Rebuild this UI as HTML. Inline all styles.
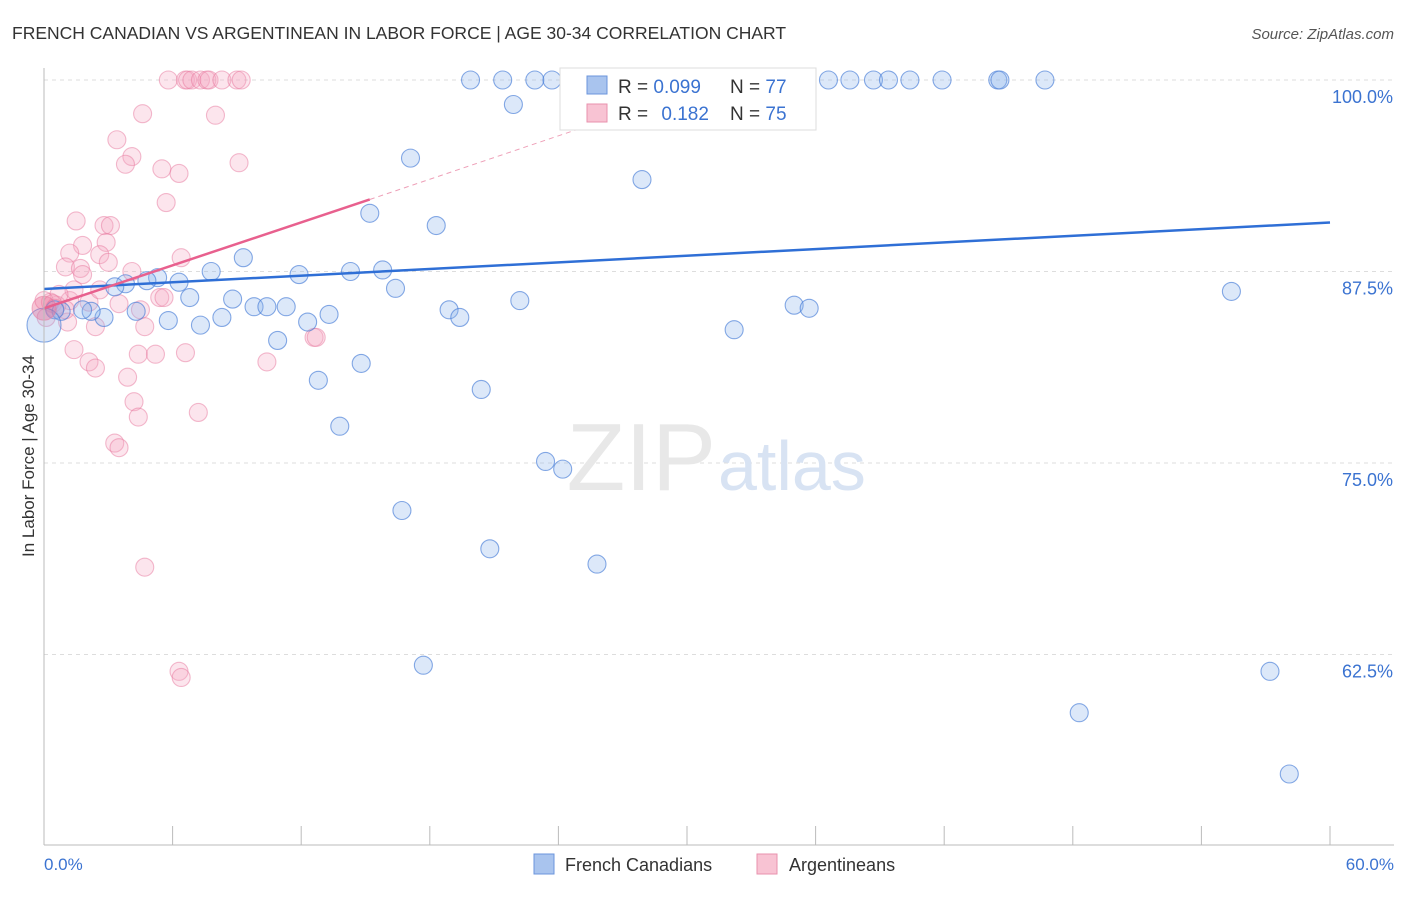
<!DOCTYPE html>
<html><head><meta charset="utf-8"><style>
body{margin:0;background:#fff;font-family:"Liberation Sans",sans-serif;}
svg text{font-family:"Liberation Sans",sans-serif;}
</style></head><body>
<svg id="chart" width="1406" height="892">
<text x="12" y="39" font-size="17.5" fill="#333">FRENCH CANADIAN VS ARGENTINEAN IN LABOR FORCE | AGE 30-34 CORRELATION CHART</text>
<text x="1394" y="39" font-size="15" fill="#555" text-anchor="end" font-style="italic">Source: ZipAtlas.com</text>
<g id="grid"></g>
<text x="716" y="490" font-size="96" fill="#e8e8e8" text-anchor="end" font-family="Liberation Serif">ZIP</text>
<text x="718" y="490" font-size="70" fill="#d8e3f3">atlas</text>
<g id="pts"></g>
<g id="lines"></g>
<line x1="44" y1="68" x2="44" y2="845" stroke="#bbb"/>
<line x1="44" y1="845" x2="1394" y2="845" stroke="#bbb"/>
<g id="ticks"></g>
<text x="34" y="456" font-size="17" fill="#333" text-anchor="middle" transform="rotate(-90 34 456)">In Labor Force | Age 30-34</text>
<text x="44" y="870" font-size="17" fill="#3b73d1">0.0%</text>
<text x="1394" y="870" font-size="17" fill="#3b73d1" text-anchor="end">60.0%</text>
<g>
<rect x="560" y="68" width="256" height="62" fill="#fff" stroke="#ddd"/>
<rect x="587" y="76" width="20" height="18" fill="#a9c4ee" stroke="#6b95dc"/>
<rect x="587" y="104" width="20" height="18" fill="#f8c3d3" stroke="#e891ae"/>
<text x="618" y="93" font-size="19" fill="#333">R = <tspan fill="#3b73d1">0.099</tspan></text>
<text x="730" y="93" font-size="19" fill="#333">N = <tspan fill="#3b73d1">77</tspan></text>
<text x="618" y="120" font-size="19" fill="#333">R = <tspan fill="#3b73d1" dx="8">0.182</tspan></text>
<text x="730" y="120" font-size="19" fill="#333">N = <tspan fill="#3b73d1">75</tspan></text>
</g>
<g>
<rect x="534" y="854" width="20" height="20" fill="#a9c4ee" stroke="#6b95dc"/>
<text x="565" y="871" font-size="18" fill="#333">French Canadians</text>
<rect x="757" y="854" width="20" height="20" fill="#f8c3d3" stroke="#e891ae"/>
<text x="789" y="871" font-size="18" fill="#333">Argentineans</text>
</g>
</svg>
<script>
const yTicks=[100,87.5,75,62.5];
const yTickLabels=["100.0%","87.5%","75.0%","62.5%"];
const xTicks=[0,6,12,18,24,30,36,42,48,54,60];
const blueX=[19.9,21.4,22.9,23.7,25.0,26.9,28.7,30.6,36.6,37.6,38.7,39.4,40.4,41.9,44.5,44.6,46.7,21.9,17.1,27.9,15.2,18.3,9.3,7.8,11.9,14.3,15.8,5.3,6.3,4.8,3.8,3.3,16.4,6.8,8.8,9.8,10.4,11.3,22.2,18.9,19.4,13.3,8.3,5.8,7.3,12.3,2.8,2.2,1.8,0.8,0.5,4.3,0.0,32.2,35.0,35.7,55.4,10.9,12.8,14.8,20.4,13.8,23.4,24.2,16.7,20.8,25.8,17.7,48.3,57.2,58.1];
const blueY=[100,100,100,100,100,100,100,100,100,100,100,100,100,100,100,100,100,98.4,94.9,93.5,91.3,90.5,88.4,87.5,87.3,87.5,87.6,87.1,86.8,86.9,86.7,86.5,86.4,85.8,85.7,85.2,85.2,85.2,85.6,85.0,84.5,84.7,84.5,84.3,84.0,84.2,84.5,84.9,85.0,84.9,85.0,84.9,84.0,83.7,85.3,85.1,86.2,83.0,80.4,81.5,79.8,77.4,75.1,74.6,71.9,69.4,68.4,61.8,58.7,61.4,54.7];
const pinkX=[5.8,6.6,6.7,6.9,7.3,7.6,7.7,8.3,9.0,9.2,4.6,8.0,3.4,4.1,3.8,5.5,6.3,9.1,5.7,1.5,2.8,3.1,1.8,2.9,1.2,2.6,3.0,1.0,1.7,1.8,4.1,6.4,1.2,2.1,3.5,4.5,5.4,5.6,4.7,2.4,1.1,0.6,0.3,0.1,1.4,2.1,2.4,4.4,5.2,6.6,10.4,3.9,4.2,4.4,7.2,3.3,3.5,4.7,6.3,6.4,12.6,12.7,2.6,1.4,0.7,0.0,0.4,0.5,1.0];
const pinkY=[100,100,100,100,100,100,100,100,100,100,97.8,97.7,96.1,95.0,94.5,94.2,93.9,94.6,92.0,90.8,90.5,90.5,89.2,89.4,88.7,88.6,88.1,87.8,87.7,87.3,87.5,88.4,85.6,85.5,85.4,85.0,85.8,85.8,83.9,83.9,84.2,85.3,85.5,84.5,82.4,81.6,81.2,82.1,82.1,82.2,81.6,80.6,79.0,78.0,78.3,76.3,76.0,68.2,61.4,61.0,83.2,83.2,86.3,86.3,86.0,85.6,85.4,85.1,85.0];
const blueTrend=[86.36,90.7];
const pinkTrend=[85.1,92.2,97.3];
const pinkTrendX=[0,15.2,26];
const NS="http://www.w3.org/2000/svg";
function sx(v){return 44+v/60*1286;}
function sy(v){return 80+(100-v)/12.5*191.5;}
function mk(tag,attrs,parent){const e=document.createElementNS(NS,tag);for(const k in attrs)e.setAttribute(k,attrs[k]);parent.appendChild(e);return e;}
const grid=document.getElementById('grid');
yTicks.forEach((t,i)=>{
 const l=mk('line',{x1:44,x2:1394,y1:sy(t),y2:sy(t),stroke:'#ddd','stroke-dasharray':'4,4'},grid);
 
 
 const tx=mk('text',{x:1393,y:sy(t)+23,'font-size':18,fill:'#3b73d1','text-anchor':'end'},grid);
 tx.textContent=yTickLabels[i];
 
 
});
const ticks=document.getElementById('ticks');
xTicks.forEach(t=>{
 const l=mk('line',{x1:sx(t),x2:sx(t),y1:826,y2:845,stroke:'#bbb'},ticks);
 
 
});
const pts=document.getElementById('pts');
pinkX.forEach((x,i)=>{
 const c=mk('circle',{cx:sx(x),cy:sy(pinkY[i]),r:9,fill:'rgba(246,170,196,0.3)',stroke:'rgba(232,120,158,0.5)','stroke-width':1.1},pts);
 
 
});
blueX.forEach((x,i)=>{
 const c=mk('circle',{cx:sx(x),cy:sy(blueY[i]),r:i==52?17:9,fill:'rgba(140,178,234,0.3)',stroke:'rgba(70,125,215,0.65)','stroke-width':1.1},pts);
 
 
});
const big=mk('circle',{cx:sx(0),cy:sy(85.1),r:12,fill:'rgba(236,110,150,0.4)',stroke:'rgba(232,120,158,0.55)'},pts);


const lines=document.getElementById('lines');
const bl=mk('line',{x1:sx(0),y1:sy(blueTrend[0]),x2:sx(60),y2:sy(blueTrend[1]),stroke:'#2f6fd6','stroke-width':2.5},lines);


const pl=mk('line',{x1:sx(pinkTrendX[0]),y1:sy(pinkTrend[0]),x2:sx(pinkTrendX[1]),y2:sy(pinkTrend[1]),stroke:'#e8608e','stroke-width':2.5},lines);


const pd=mk('line',{x1:sx(pinkTrendX[1]),y1:sy(pinkTrend[1]),x2:sx(pinkTrendX[2]),y2:sy(pinkTrend[2]),stroke:'#eea0b8','stroke-width':1,'stroke-dasharray':'5,4'},lines);


</script>
</body></html>
